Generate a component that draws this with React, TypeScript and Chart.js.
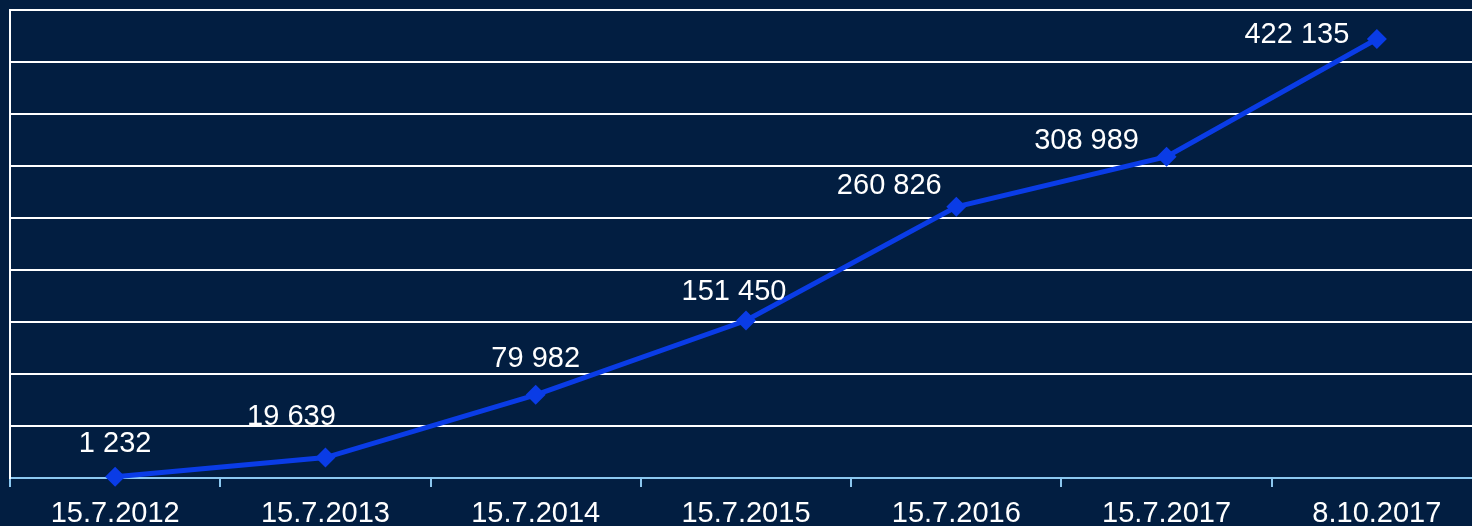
import React, { useEffect, useRef } from "react";
import { Chart, registerables } from "chart.js";

Chart.register(...registerables);

const categories: string[] = ["15.7.2012", "15.7.2013", "15.7.2014", "15.7.2015", "15.7.2016", "15.7.2017", "8.10.2017"];
const values: number[] = [1232, 19639, 79982, 151450, 260826, 308989, 422135];
const valueLabels: string[] = ["1 232", "19 639", "79 982", "151 450", "260 826", "308 989", "422 135"];
// label offsets relative to each point (pixels), as placed in the original
const labelOffsetX: number[] = [0, -34, 0, -12, -67, -80, -80];
const labelOffsetY: number[] = [-33, -41, -36, -28, -21, -16, -4];

const BG = "#021e41";
const LINE = "#0a3ce6";
const AXIS = "#8cc8f0";
const FONT = '"Liberation Sans", Arial, sans-serif';

const labelPlugin = {
  id: "valueLabels",
  afterDatasetsDraw(chart: any) {
    const meta = chart.getDatasetMeta(0);
    const ctx = chart.ctx;
    ctx.save();
    ctx.font = `29px ${FONT}`;
    ctx.fillStyle = "#ffffff";
    ctx.textAlign = "center";
    ctx.textBaseline = "middle";
    meta.data.forEach((pt: any, i: number) => {
      ctx.fillText(valueLabels[i], pt.x + labelOffsetX[i], pt.y + labelOffsetY[i]);
    });
    ctx.restore();
  },
};

const bgPlugin = {
  id: "bg",
  beforeDraw(chart: any) {
    const ctx = chart.ctx;
    ctx.save();
    ctx.fillStyle = BG;
    ctx.fillRect(0, 0, chart.width, chart.height);
    ctx.restore();
  },
};

export default function App() {
  const ref = useRef<HTMLCanvasElement | null>(null);
  useEffect(() => {
    if (!ref.current) return;
    const chart = new Chart(ref.current, {
      type: "line",
      data: {
        labels: categories,
        datasets: [
          {
            data: values,
            borderColor: LINE,
            backgroundColor: LINE,
            borderWidth: 5,
            pointStyle: "rectRot",
            pointRadius: 10,
            pointBorderWidth: 0,
            pointBackgroundColor: LINE,
            tension: 0,
            clip: false,
          },
        ],
      },
      options: {
        responsive: false,
        animation: false,
        devicePixelRatio: 1,
        layout: { padding: { left: 10, right: 10, top: 10, bottom: 0 } },
        plugins: { legend: { display: false }, tooltip: { enabled: false } },
        scales: {
          x: {
            offset: true,
            grid: {
              offset: true,
              drawOnChartArea: false,
              drawTicks: true,
              tickLength: 9,
              tickColor: AXIS,
              tickWidth: 2,
              color: AXIS,
              lineWidth: 2,
            },
            border: { color: AXIS, width: 2 },
            ticks: {
              color: "#ffffff",
              font: { family: FONT, size: 29 },
              padding: 10,
              maxRotation: 0,
              autoSkip: false,
            },
            afterFit: (scale: any) => {
              scale.height = 48;
            },
          },
          y: {
            min: 0,
            max: 450000,
            ticks: { display: false, stepSize: 50000 },
            grid: {
              drawTicks: false,
              color: (c: any) => (c.tick && c.tick.value === 0 ? "rgba(0,0,0,0)" : "#ffffff"),
              lineWidth: 2,
            },
            border: { color: "#ffffff", width: 2 },
          },
        },
      },
      plugins: [bgPlugin, labelPlugin],
    });
    return () => chart.destroy();
  }, []);
  return (
    <div
      style={{
        position: "fixed",
        left: 0,
        top: 0,
        width: 1472,
        height: 526,
        overflow: "hidden",
        background: BG,
      }}
    >
      <canvas ref={ref} width={1492} height={526} style={{ display: "block", width: 1492, height: 526 }} />
    </div>
  );
}
